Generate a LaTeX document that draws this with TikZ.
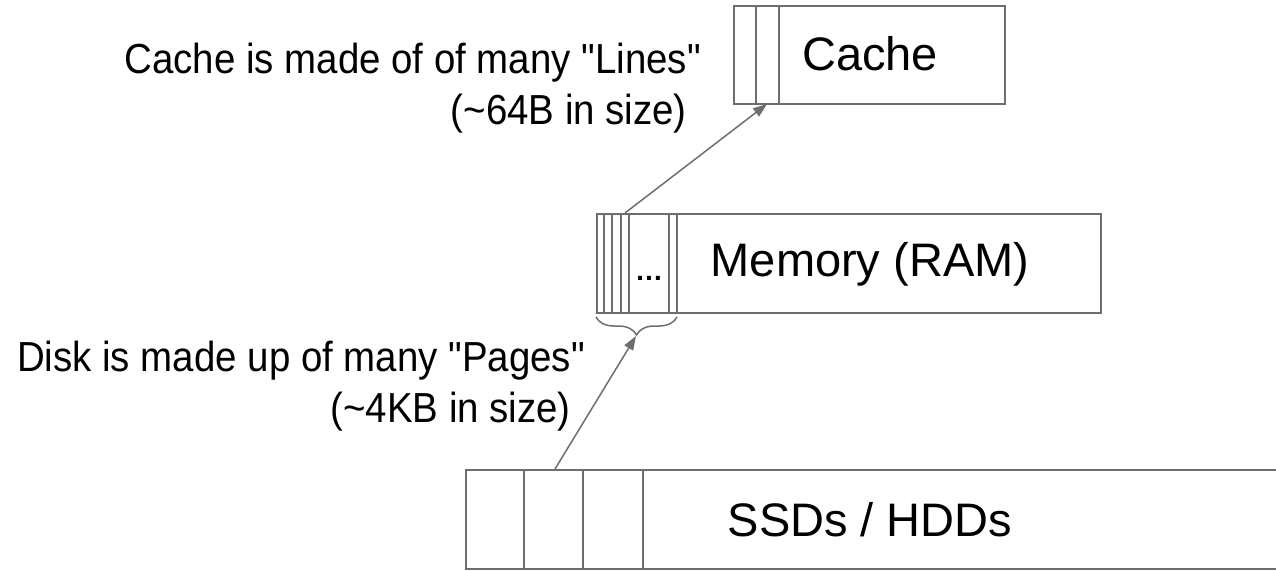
\documentclass[tikz,border=0pt]{standalone}
\usepackage{fontspec}
\setmainfont{Liberation Sans}
\newfontfamily\notefont[FakeStretch=0.915]{Liberation Sans}
\usetikzlibrary{arrows.meta,decorations.pathreplacing,calc}
\definecolor{edge}{RGB}{110,110,110}
\begin{document}
\begin{tikzpicture}[x=1pt,y=-1pt,
  box/.style={draw=edge,line width=2pt,inner sep=0pt,anchor=north west},
  cell/.style={draw=edge,line width=2pt},
  link/.style={draw=edge,line width=1.5pt,-{Triangle[length=14pt,width=10pt]}},
  boxtext/.style={font=\fontsize{47}{56}\selectfont,text=black,inner sep=0pt},
  note/.style={font=\notefont\fontsize{42}{51}\selectfont,align=right,anchor=east,inner sep=0pt}]
\useasboundingbox (0,0) rectangle (1276,570);
\clip (0,0) rectangle (1276,570);

% cache with its lines
\node[box,minimum width=271pt,minimum height=98pt] (cache) at (733,5) {};
\foreach \x in {756,779} \draw[cell] (\x,5) -- (\x,103);
\node[boxtext] (cachetext) at (870,54) {Cache};

% memory with its pages
\node[box,minimum width=504pt,minimum height=99pt] (mem) at (596,213) {};
\foreach \x in {604,612,621,629,669,677} \draw[cell] (\x,213) -- (\x,312);
\node[font=\bfseries\fontsize{28}{34}\selectfont,inner sep=0pt,anchor=base] (dots) at (649,280) {\dots};
\node[boxtext] (memtext) at (870,264) {Memory (RAM)};

% disk with its pages
\node[box,minimum width=900pt,minimum height=99pt] (disk) at (465,469) {};
\foreach \x in {524,583,643} \draw[cell] (\x,469) -- (\x,568);
\node[boxtext] (disktext) at (870,520) {SSDs / HDDs};

% brace under the memory pages
\draw[edge,line width=1.5pt,decorate,decoration={brace,mirror,amplitude=18pt}]
  (596,317) -- (677,317);
\coordinate (bracetip) at (636,336);

% connectors
\coordinate (memline) at ($(mem.north west)+(29,0)$);
\coordinate (cacheline) at (767,104);
\coordinate (diskpage) at ($(disk.north west)+(90,0)$);
\draw[link] (memline) -- (cacheline);
\draw[link] (diskpage) -- (bracetip);

% notes
\node[note] (cachenote) at (701,88) {Cache is made of of many "Lines"\\(\textasciitilde 64B in size)\kern14pt};
\node[note] (disknote) at (585,386) {Disk is made up of many "Pages"\\(\textasciitilde 4KB in size)\kern14pt};
\end{tikzpicture}
\end{document}
